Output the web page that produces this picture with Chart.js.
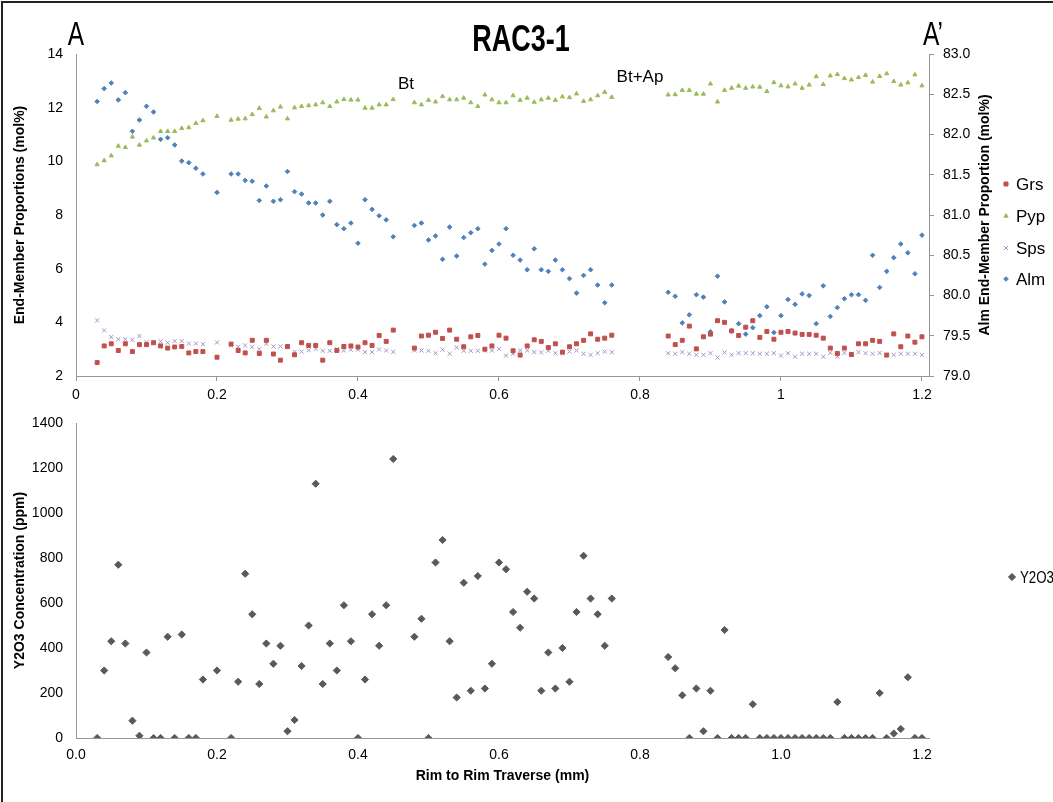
<!DOCTYPE html>
<html>
<head>
<meta charset="utf-8">
<script src="https://cdn.jsdelivr.net/npm/chart.js@4.4.1/dist/chart.umd.min.js"></script>
<style>
  html, body { margin: 0; padding: 0; background: #fff; }
  #page { position: relative; width: 1053px; height: 802px; overflow: hidden; font-family: "Liberation Sans", Arial, sans-serif; }
  #frame { position: absolute; left: 1px; top: 1px; width: 1100px; height: 900px; border-left: 2px solid #222; border-top: 2px solid #222; }
  canvas { position: absolute; left: 0; }
  #topChart { top: 0; }
  #bottomChart { top: 410px; }
  .head { position: absolute; color: #000; white-space: nowrap; text-align: center; }
</style>
</head>
<body>
<div id="page">
  <div id="frame"></div>
  <canvas id="topChart" width="1053" height="410"></canvas>
  <canvas id="bottomChart" width="1053" height="392"></canvas>
  <div class="head" style="left:36px; top:16px; width:80px; font-size:34px; line-height:34px; transform:scaleX(0.72);">A</div>
  <div class="head" style="left:893px; top:16px; width:80px; font-size:34px; line-height:34px; transform:scaleX(0.72);">A&#8217;</div>
  <div class="head" style="left:371px; top:21px; width:300px; font-size:36px; line-height:36px; font-weight:bold; transform:scaleX(0.75);">RAC3-1</div>
</div>
<script>
// distance along the traverse (mm)
const xMm = [
  0.03, 0.04, 0.05, 0.06, 0.07, 0.08, 0.09, 0.10, 0.11, 0.12, 0.13, 0.14, 0.15, 0.16, 0.17, 0.18,
  0.20,
  0.22, 0.23, 0.24, 0.25, 0.26, 0.27, 0.28, 0.29, 0.30, 0.31, 0.32, 0.33, 0.34, 0.35, 0.36, 0.37, 0.38, 0.39, 0.40, 0.41, 0.42, 0.43, 0.44, 0.45,
  0.48, 0.49, 0.50, 0.51, 0.52, 0.53, 0.54, 0.55, 0.56, 0.57, 0.58, 0.59, 0.60, 0.61, 0.62, 0.63, 0.64, 0.65, 0.66, 0.67, 0.68, 0.69, 0.70, 0.71, 0.72, 0.73, 0.74, 0.75, 0.76,
  0.84, 0.85, 0.86, 0.87, 0.88, 0.89, 0.90, 0.91, 0.92, 0.93, 0.94, 0.95, 0.96, 0.97, 0.98, 0.99, 1.00, 1.01, 1.02, 1.03, 1.04, 1.05, 1.06, 1.07, 1.08, 1.09, 1.10, 1.11, 1.12, 1.13, 1.14, 1.15, 1.16, 1.17, 1.18, 1.19, 1.20
];

const grs = [
  2.50, 3.12, 3.20, 2.95, 3.20, 2.91, 3.17, 3.17, 3.24, 3.12, 3.04, 3.08, 3.10, 2.86, 2.91, 2.91,
  2.70,
  3.19, 2.95, 2.86, 3.33, 2.84, 3.33, 2.82, 2.59, 3.10, 2.79, 3.24, 3.14, 3.14, 2.59, 3.24, 2.95, 3.10, 3.12, 3.08, 3.24, 3.14, 3.51, 3.29, 3.71,
  3.04, 3.49, 3.52, 3.63, 3.40, 3.71, 3.37, 3.09, 3.46, 3.51, 3.00, 3.12, 3.52, 3.41, 2.94, 2.78, 3.12, 3.35, 3.29, 3.06, 3.20, 2.89, 3.09, 3.20, 3.33, 3.57, 3.37, 3.41, 3.52,
  3.49, 3.17, 3.33, 3.86, 3.01, 3.46, 3.56, 4.06, 4.00, 3.68, 3.51, 3.82, 4.06, 3.44, 3.66, 3.37, 3.63, 3.66, 3.60, 3.55, 3.55, 3.52, 3.41, 3.04, 2.84, 3.04, 2.80, 3.20, 3.20, 3.33, 3.29, 2.78, 3.57, 3.09, 3.49, 3.26, 3.46
];

const pyp = [
  9.88, 10.03, 10.21, 10.57, 10.52, 10.91, 10.61, 10.77, 10.88, 11.12, 11.12, 11.12, 11.23, 11.26, 11.42, 11.52,
  11.68,
  11.54, 11.58, 11.59, 11.75, 11.98, 11.66, 11.89, 12.03, 11.59, 12.00, 12.05, 12.08, 12.11, 12.19, 12.05, 12.22, 12.31, 12.29, 12.29, 11.99, 11.99, 12.11, 12.11, 12.31,
  12.19, 12.11, 12.28, 12.22, 12.42, 12.30, 12.30, 12.36, 12.19, 12.05, 12.48, 12.30, 12.19, 12.19, 12.45, 12.28, 12.36, 12.21, 12.30, 12.36, 12.28, 12.41, 12.38, 12.52, 12.24, 12.30, 12.45, 12.58, 12.39,
  12.48, 12.49, 12.65, 12.65, 12.51, 12.51, 12.89, 12.22, 12.65, 12.73, 12.81, 12.73, 12.78, 12.77, 12.61, 12.94, 12.82, 12.78, 12.89, 12.73, 12.85, 13.16, 12.87, 13.19, 13.24, 13.09, 13.04, 13.13, 13.21, 12.96, 13.17, 13.27, 12.98, 12.85, 12.93, 13.23, 12.82
];

const sps = [
  4.07, 3.70, 3.45, 3.37, 3.37, 3.35, 3.49, 3.26, 3.25, 3.29, 3.24, 3.30, 3.30, 3.21, 3.21, 3.19,
  3.25,
  3.14, 3.09, 3.14, 3.09, 3.00, 3.20, 3.10, 3.10, 3.08, 2.90, 2.91, 2.96, 3.01, 2.94, 2.94, 3.00, 2.95, 2.98, 2.98, 2.89, 2.89, 2.99, 2.95, 2.90,
  2.95, 2.95, 2.94, 2.85, 2.98, 2.83, 3.06, 2.94, 2.94, 2.94, 2.95, 2.95, 3.01, 2.76, 2.83, 2.95, 2.95, 2.89, 2.88, 2.94, 2.85, 2.85, 2.91, 2.95, 2.83, 2.79, 2.85, 2.91, 2.89,
  2.85, 2.83, 2.89, 2.83, 2.79, 2.79, 2.85, 2.69, 2.88, 2.79, 2.85, 2.85, 2.85, 2.83, 2.83, 2.85, 2.76, 2.85, 2.72, 2.83, 2.83, 2.83, 2.72, 2.86, 2.72, 2.86, 2.83, 2.89, 2.85, 2.83, 2.86, 2.79, 2.79, 2.83, 2.83, 2.83, 2.79
];

// Alm is read on the right hand axis
const alm = [
  82.41, 82.57, 82.64, 82.43, 82.52, 82.04, 82.18, 82.35, 82.28, 81.94, 81.96, 81.87, 81.67, 81.65, 81.58, 81.51,
  81.28,
  81.51, 81.51, 81.43, 81.42, 81.18, 81.36, 81.17, 81.19, 81.54, 81.29, 81.26, 81.15, 81.15, 81.00, 81.17, 80.88, 80.83, 80.90, 80.65, 81.19, 81.07, 80.99, 80.94, 80.73,
  80.87, 80.90, 80.69, 80.74, 80.45, 80.85, 80.49, 80.72, 80.78, 80.83, 80.39, 80.56, 80.64, 80.83, 80.50, 80.44, 80.32, 80.58, 80.32, 80.30, 80.44, 80.32, 80.21, 80.03, 80.25, 80.32, 80.13, 79.91, 80.13,
  80.04, 79.99, 79.66, 79.76, 80.01, 79.98, 79.55, 80.24, 79.92, 79.56, 79.65, 79.52, 79.60, 79.75, 79.86, 79.54, 79.75, 79.95, 79.89, 80.02, 80.00, 79.65, 80.12, 79.74, 79.85, 79.96, 80.01, 80.01, 79.94, 80.50, 80.10, 80.30, 80.47, 80.64, 80.53, 80.27, 80.75
];

const y2o3 = [
  0, 300, 430, 770, 420, 77, 10, 380, 0, 0, 450, 0, 460, 0, 0, 260,
  300,
  0, 250, 730, 550, 240, 420, 330, 410, 30, 80, 320, 500, 1130, 240, 420, 300, 590, 430, 0, 260, 550, 410, 590, 1240,
  450, 530, 0, 780, 880, 430, 180, 690, 210, 720, 220, 330, 780, 750, 560, 490, 650, 620, 210, 380, 220, 400, 250, 560, 810, 620, 550, 410, 620,
  360, 310, 190, 0, 220, 30, 210, 0, 480, 0, 0, 0, 150, 0, 0, 0, 0, 0, 0, 0, 0, 0, 0, 0, 160, 0, 0, 0, 0, 0, 200, 0, 20, 40, 270, 0, 0
];

const xTicks = [0, 0.2, 0.4, 0.6, 0.8, 1, 1.2];
const noteText = ['Bt', 'Bt+Ap'];
const noteX = [0.468, 0.80];
const noteY = [12.88, 13.14];

const FONT = '"Liberation Sans", Arial, sans-serif';
const AXIS = '#969696';
Chart.defaults.font.family = FONT;
Chart.defaults.color = '#000';

const pts = (ys) => xMm.map((x, i) => ({x: x, y: ys[i]}));

// legend drawn on the canvas at a fixed spot right of the plot
const sideLegend = {
    id: 'sideLegend',
    afterDraw(chart, args, opts) {
        const ctx = chart.ctx;
        ctx.save();
        chart.data.datasets.forEach((ds, i) => {
            const y = opts.y[i];
            ctx.fillStyle = ds.backgroundColor;
            ctx.strokeStyle = ds.borderColor;
            ctx.lineWidth = 1;
            Chart.helpers.drawPoint(ctx, {pointStyle: ds.pointStyle, radius: ds.pointRadius, rotation: 0, borderWidth: 1}, opts.x, y);
            ctx.fillStyle = '#000';
            ctx.font = '17px ' + FONT;
            ctx.textAlign = 'left';
            ctx.textBaseline = 'middle';
            if (opts.maxWidth) {
                ctx.fillText(ds.label, opts.x + 8, y + 1, opts.maxWidth);
            } else {
                ctx.fillText(ds.label, opts.x + 10, y + 1);
            }
        });
        ctx.restore();
    }
};

const topExtras = {
    id: 'topExtras',
    afterDraw(chart) {
        const ctx = chart.ctx;
        const area = chart.chartArea;
        ctx.save();
        ctx.fillStyle = '#000';
        ctx.font = 'bold 14px ' + FONT;
        ctx.textAlign = 'center';
        ctx.textBaseline = 'middle';
        ctx.translate(985, (area.top + area.bottom) / 2);
        ctx.rotate(-Math.PI / 2);
        ctx.fillText('Alm End-Member Proportion (mol%)', 0, 0);
        ctx.restore();

        ctx.save();
        ctx.fillStyle = '#000';
        ctx.font = '17px ' + FONT;
        ctx.textAlign = 'center';
        ctx.textBaseline = 'middle';
        noteText.forEach((t, i) => {
            ctx.fillText(t, chart.scales.x.getPixelForValue(noteX[i]), chart.scales.y.getPixelForValue(noteY[i]));
        });
        ctx.restore();
    }
};

// fixed axis box so the plot area lands where it should
const fixWidth = (w) => (s) => { s.width = w; s.paddingTop = 0; s.paddingBottom = 0; };

new Chart(document.getElementById('topChart'), {
    type: 'scatter',
    data: {
        datasets: [{
            label: 'Grs',
            data: pts(grs),
            yAxisID: 'y',
            pointStyle: 'rect',
            pointRadius: 2.8,
            backgroundColor: '#C0504D',
            borderColor: '#C0504D',
            borderWidth: 1
        }, {
            label: 'Pyp',
            data: pts(pyp),
            yAxisID: 'y',
            pointStyle: 'triangle',
            pointRadius: 2.4,
            backgroundColor: '#9BBB59',
            borderColor: '#9BBB59',
            borderWidth: 1
        }, {
            label: 'Sps',
            data: pts(sps),
            yAxisID: 'y',
            pointStyle: 'crossRot',
            pointRadius: 2.9,
            backgroundColor: '#A593C8',
            borderColor: '#A593C8',
            borderWidth: 1
        }, {
            label: 'Alm',
            data: pts(alm),
            yAxisID: 'y2',
            pointStyle: 'rectRot',
            pointRadius: 2.3,
            backgroundColor: '#4F81BD',
            borderColor: '#4F81BD',
            borderWidth: 1
        }]
    },
    options: {
        responsive: false,
        animation: false,
        events: [],
        layout: {padding: {top: 54, left: 0, right: 0, bottom: 0}},
        plugins: {
            legend: {display: false},
            tooltip: {enabled: false},
            sideLegend: {x: 1006, y: [184, 216, 248, 279]}
        },
        scales: {
            x: {
                type: 'linear',
                min: 0,
                max: 1.21,
                afterFit: (s) => { s.height = 34; },
                afterBuildTicks: (s) => { s.ticks = xTicks.map(v => ({value: v})); },
                ticks: {
                    font: {size: 14},
                    padding: 6,
                    callback: (v) => String(Number(v.toFixed(1)))
                },
                grid: {drawOnChartArea: false, drawTicks: true, tickLength: 5, color: AXIS},
                border: {color: AXIS}
            },
            y: {
                position: 'left',
                min: 2,
                max: 14,
                afterFit: fixWidth(76),
                ticks: {stepSize: 2, font: {size: 14}, padding: 13},
                grid: {drawOnChartArea: false, drawTicks: false},
                border: {color: AXIS},
                title: {
                    display: true,
                    text: 'End-Member Proportions (mol%)',
                    font: {size: 14, weight: 'bold'},
                    padding: {top: 12, bottom: 0}
                }
            },
            y2: {
                position: 'right',
                min: 79,
                max: 83,
                afterFit: fixWidth(124),
                ticks: {stepSize: 0.5, font: {size: 14}, padding: 9, callback: (v) => v.toFixed(1)},
                grid: {drawOnChartArea: false, drawTicks: true, tickLength: 5, color: AXIS},
                border: {color: AXIS}
            }
        }
    },
    plugins: [sideLegend, topExtras]
});

new Chart(document.getElementById('bottomChart'), {
    type: 'scatter',
    data: {
        datasets: [{
            label: 'Y2O3',
            data: pts(y2o3),
            pointStyle: 'rectRot',
            pointRadius: 3.6,
            backgroundColor: '#595959',
            borderColor: '#595959',
            borderWidth: 1
        }]
    },
    options: {
        responsive: false,
        animation: false,
        events: [],
        layout: {padding: {top: 13, left: 0, right: 124, bottom: 0}},
        plugins: {
            legend: {display: false},
            tooltip: {enabled: false},
            sideLegend: {x: 1012, y: [167], maxWidth: 34}
        },
        scales: {
            x: {
                type: 'linear',
                min: 0,
                max: 1.21,
                afterFit: (s) => { s.height = 64; },
                afterBuildTicks: (s) => { s.ticks = xTicks.map(v => ({value: v})); },
                ticks: {font: {size: 14}, padding: 9, callback: (v) => v.toFixed(1)},
                grid: {drawOnChartArea: false, drawTicks: false},
                border: {color: AXIS},
                title: {
                    display: true,
                    text: 'Rim to Rim Traverse (mm)',
                    font: {size: 14, weight: 'bold'},
                    padding: {top: 4, bottom: 17}
                }
            },
            y: {
                min: 0,
                max: 1400,
                afterFit: fixWidth(76),
                ticks: {stepSize: 200, font: {size: 14}, padding: 13, callback: (v) => String(v)},
                grid: {drawOnChartArea: false, drawTicks: false},
                border: {color: AXIS},
                title: {
                    display: true,
                    text: 'Y2O3 Concentration (ppm)',
                    font: {size: 14, weight: 'bold'},
                    padding: {top: 12, bottom: 0}
                }
            }
        }
    },
    plugins: [sideLegend]
});
</script>
</body>
</html>
